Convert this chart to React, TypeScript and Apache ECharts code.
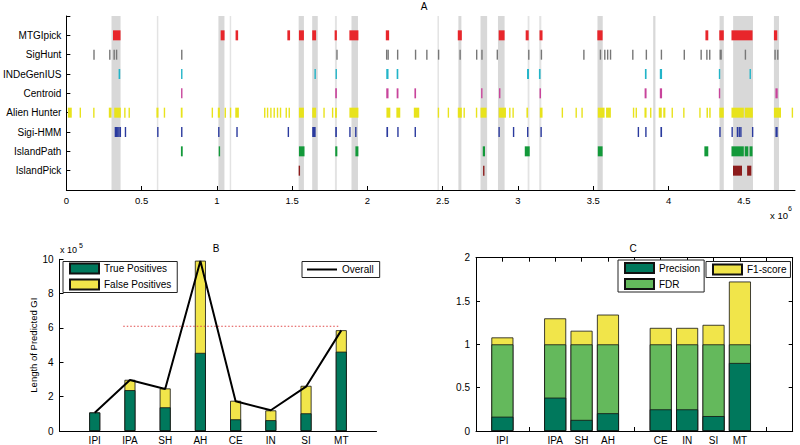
import React, { useEffect, useRef } from 'react';
import * as echarts from 'echarts';

// ---------- Panel A data (positions in Mb, i.e. x 10^6) ----------
const trackNames = ['MTGIpick', 'SigHunt', 'INDeGenIUS', 'Centroid', 'Alien Hunter', 'Sigi-HMM', 'IslandPath', 'IslandPick'];
const xTicksA = [0, 0.5, 1, 1.5, 2, 2.5, 3, 3.5, 4, 4.5];

const mtgipick = [[0.31, 0.36], [1.025, 1.051], [1.124, 1.141], [1.468, 1.486], [1.545, 1.578], [1.633, 1.659], [1.782, 1.797], [1.88, 1.94], [2.122, 2.144], [2.6, 2.627], [2.872, 2.911], [3.051, 3.071], [3.143, 3.163], [3.527, 3.562], [4.245, 4.264], [4.337, 4.367], [4.418, 4.558], [4.7, 4.722]];
const sighunt = [[0.179, 0.184], [0.284, 0.289], [0.313, 0.318], [0.329, 0.334], [0.762, 0.767], [1.793, 1.798], [2.123, 2.129], [2.133, 2.14], [2.196, 2.201], [2.315, 2.32], [2.39, 2.395], [2.468, 2.473], [2.611, 2.616], [2.721, 2.726], [2.756, 2.761], [2.858, 2.863], [3.067, 3.072], [3.151, 3.156], [3.433, 3.438], [3.543, 3.548], [3.572, 3.577], [3.591, 3.596], [3.61, 3.615], [3.758, 3.763], [3.848, 3.853], [3.948, 3.953], [4.1, 4.105], [4.212, 4.217], [4.25, 4.255], [4.269, 4.274], [4.339, 4.354], [4.506, 4.511], [4.703, 4.708], [4.721, 4.726]];
const indegenius = [[0.347, 0.358], [0.762, 0.771], [1.648, 1.654], [1.788, 1.797], [2.125, 2.14], [2.194, 2.205], [3.06, 3.073], [3.139, 3.15], [3.843, 3.854], [3.942, 3.957], [4.334, 4.341], [4.538, 4.545]];
const centroid = [[0.762, 0.771], [1.786, 1.797], [2.125, 2.14], [2.194, 2.206], [2.312, 2.323], [2.755, 2.764], [2.874, 2.883], [3.143, 3.153], [3.841, 3.854], [3.942, 3.957], [4.334, 4.343], [4.71, 4.725]];
const alienHunter = [[0.01, 0.036], [0.088, 0.094], [0.178, 0.184], [0.282, 0.3], [0.318, 0.362], [0.384, 0.39], [0.413, 0.419], [0.598, 0.612], [0.647, 0.653], [0.76, 0.772], [0.965, 0.971], [1.006, 1.02], [1.051, 1.057], [1.086, 1.092], [1.122, 1.146], [1.313, 1.318], [1.332, 1.337], [1.354, 1.359], [1.376, 1.381], [1.398, 1.403], [1.418, 1.423], [1.456, 1.462], [1.476, 1.482], [1.545, 1.578], [1.633, 1.659], [1.707, 1.712], [1.764, 1.77], [1.785, 1.797], [1.88, 1.94], [2.126, 2.152], [2.192, 2.218], [2.308, 2.344], [2.467, 2.473], [2.533, 2.539], [2.6, 2.627], [2.638, 2.644], [2.72, 2.726], [2.751, 2.791], [2.872, 2.92], [2.941, 2.947], [2.963, 2.969], [3.056, 3.067], [3.145, 3.163], [3.29, 3.296], [3.382, 3.388], [3.421, 3.427], [3.53, 3.575], [3.585, 3.617], [3.763, 3.769], [3.781, 3.787], [3.84, 3.854], [3.877, 3.883], [3.935, 3.955], [3.965, 3.979], [4.02, 4.026], [4.097, 4.103], [4.204, 4.21], [4.252, 4.262], [4.27, 4.28], [4.337, 4.367], [4.418, 4.5], [4.506, 4.56], [4.7, 4.747], [4.818, 4.824]];
const sigiHmm = [[0.321, 0.326], [0.329, 0.334], [0.337, 0.342], [0.345, 0.35], [0.354, 0.36], [0.388, 0.393], [0.603, 0.608], [0.762, 0.771], [1.008, 1.016], [1.129, 1.134], [1.47, 1.475], [1.633, 1.656], [1.786, 1.797], [1.879, 1.884], [1.918, 1.923], [2.126, 2.137], [2.198, 2.203], [2.313, 2.318], [2.87, 2.878], [2.966, 2.971], [3.06, 3.065], [3.149, 3.154], [3.795, 3.8], [3.845, 3.85], [3.946, 3.957], [4.337, 4.342], [4.418, 4.423], [4.453, 4.459], [4.465, 4.47], [4.476, 4.482], [4.554, 4.559], [4.71, 4.725]];
const islandPath = [[0.761, 0.773], [1.012, 1.017], [1.545, 1.582], [1.786, 1.8], [1.92, 1.94], [2.766, 2.781], [3.045, 3.078], [3.53, 3.562], [4.238, 4.264], [4.418, 4.5], [4.506, 4.53], [4.538, 4.558]];
const islandPick = [[1.543, 1.552], [2.768, 2.777], [4.428, 4.488], [4.522, 4.55]];

const referenceGIs = [[0.3, 0.36], [1.01, 1.05], [1.543, 1.578], [1.633, 1.67], [1.894, 1.937], [2.604, 2.624], [2.751, 2.795], [2.867, 2.911], [3.528, 3.563], [3.898, 3.913], [4.339, 4.367], [4.429, 4.561], [4.7, 4.734]];
const referenceThin = [[0.601, 0.611], [1.085, 1.095], [1.784, 1.797], [2.465, 2.475], [3.064, 3.076], [3.141, 3.155]];

// ---------- Panel B data (x 10^5) ----------
const bNames = ['IPI', 'IPA', 'SH', 'AH', 'CE', 'IN', 'SI', 'MT'];
const truePositives = [1.08, 2.38, 1.38, 4.55, 0.68, 0.63, 1.03, 4.62];
const falsePositives = [0, 0.6, 1.1, 5.37, 1.08, 0.57, 1.6, 1.25];
const overall = [1.06, 2.97, 2.45, 9.9, 1.73, 1.21, 2.58, 5.86];
const trueGILength = 6.1;
const trueGISpan = [1.81, 7.97];

// ---------- Panel C data ----------
const cNames = ['IPI', 'IPA', 'SH', 'AH', 'CE', 'IN', 'SI', 'MT'];
const cPositions = [1, 3, 4, 5, 7, 8, 9, 10];
const precision = [0.165, 0.385, 0.128, 0.205, 0.25, 0.25, 0.172, 0.785];
const fdr = precision.map((p) => 1 - p);
const f1Score = [0.08, 0.3, 0.157, 0.343, 0.19, 0.19, 0.225, 0.725];

// ---------- styles ----------
const FONT = "'Liberation Sans', Arial, Helvetica, sans-serif";
const trackColors = ['#e8262b', '#777777', '#22b4c8', '#c8449b', '#e8e31c', '#2a3a9e', '#13993a', '#8c1c1c'];
const DARK_GREEN = '#00785c';
const LIGHT_GREEN = '#64b95c';
const YELLOW = '#f1e54a';
const FS = 9.5;

export default function App() {
  const ref = useRef<HTMLDivElement>(null);
  useEffect(() => {
    if (!ref.current) return;
    const chart = echarts.init(ref.current, undefined, { renderer: 'svg' });

    const tracks = [mtgipick, sighunt, indegenius, centroid, alienHunter, sigiHmm, islandPath, islandPick];
    const markData: number[][] = [];
    tracks.forEach((list, ti) => list.forEach(([s, e]) => markData.push([s, e, 8 - ti, ti])));
    const bandData = referenceGIs.map(([s, e]) => [s, e, 0, 9]);
    const thinData = referenceThin.map(([s, e]) => [s, e, 0, 9]);

    const bandRender = (fill: string) => (params: any, api: any) => {
      const p0 = api.coord([api.value(0), 9]);
      const p1 = api.coord([api.value(1), 0]);
      return {
        type: 'rect',
        shape: { x: p0[0], y: p0[1], width: Math.max(p1[0] - p0[0], 1.5), height: p1[1] - p0[1] },
        style: { fill },
      };
    };

    const axisCommon = {
      axisLine: { show: true, onZero: false, lineStyle: { color: '#000', width: 1 } },
      axisTick: { show: true, inside: true, length: 4, lineStyle: { color: '#000' } },
      splitLine: { show: false },
    };

    const bTotals = truePositives.map((t, i) => t + falsePositives[i]);
    const cFdrTop = precision.map((p, i) => p + fdr[i]);
    const cF1Top = cFdrTop.map((v, i) => v + f1Score[i]);

    const legendBase = {
      orient: 'vertical',
      itemWidth: 29,
      itemHeight: 10,
      itemGap: 4,
      selectedMode: false,
      backgroundColor: '#fff',
      borderColor: '#222',
      borderWidth: 1,
      borderRadius: 0,
      icon: 'rect',
      textStyle: { fontSize: FS + 0.5, color: '#000', fontFamily: FONT },
    };

    const option: any = {
      animation: false,
      backgroundColor: '#fff',
      textStyle: { fontFamily: FONT },
      grid: [
        { left: 59.5, top: 16, width: 735.5, height: 174 },
        { left: 59.5, top: 259.3, width: 317, height: 173 },
        { left: 476, top: 257.7, width: 316.7, height: 174.6 },
      ],
      xAxis: [
        {
          ...axisCommon, gridIndex: 0, type: 'value', min: 0, max: 4.84, interval: 0.5,
          axisLabel: {
            color: '#000', fontSize: FS, margin: 5, showMaxLabel: false,
            formatter: (v: number) => (xTicksA.some((t) => Math.abs(t - v) < 1e-6) ? String(v) : ''),
          },
        },
        {
          ...axisCommon, gridIndex: 1, type: 'value', min: 0, max: 9, interval: 1,
          axisTick: { show: false },
          axisLabel: { color: '#000', fontSize: FS + 0.5, margin: 4, formatter: (v: number) => bNames[v - 1] ?? '' },
        },
        {
          ...axisCommon, gridIndex: 2, type: 'value', min: 0, max: 12, interval: 1,
          axisLabel: {
            color: '#000', fontSize: FS + 0.5, margin: 4,
            formatter: (v: number) => { const i = cPositions.indexOf(v); return i >= 0 ? cNames[i] : ''; },
          },
        },
        {
          ...axisCommon, gridIndex: 2, type: 'value', position: 'top', min: 0, max: 12, interval: 1,
          axisLabel: { show: false },
        },
      ],
      yAxis: [
        {
          ...axisCommon, gridIndex: 0, type: 'value', min: 0, max: 9, interval: 1,
          axisLabel: { color: '#000', fontSize: FS + 0.5, margin: 5, formatter: (v: number) => trackNames[8 - v] ?? '' },
        },
        {
          ...axisCommon, gridIndex: 1, type: 'value', min: 0, max: 10, interval: 2,
          axisLabel: { color: '#000', fontSize: FS + 0.5, margin: 6 },
          name: 'Length of Predicted GI', nameLocation: 'middle', nameGap: 20,
          nameTextStyle: { color: '#000', fontSize: FS, fontFamily: FONT },
        },
        {
          ...axisCommon, gridIndex: 2, type: 'value', min: 0, max: 2, interval: 0.5,
          axisLabel: { color: '#000', fontSize: FS + 0.5, margin: 6 },
        },
        {
          ...axisCommon, gridIndex: 2, type: 'value', position: 'right', min: 0, max: 2, interval: 0.5,
          axisLabel: { show: false },
        },
      ],
      legend: [
        { ...legendBase, left: 63, top: 261.5, padding: [1, 6, 2, 6], data: ['True Positives', 'False Positives'] },
        {
          ...legendBase, left: 302, top: 261.5, padding: [3, 6, 3, 5], itemWidth: 30, itemHeight: 2,
          itemStyle: { color: '#000', borderWidth: 0 }, data: ['Overall'],
        },
        { ...legendBase, left: 618, top: 260, padding: [2, 4, 2, 6], data: ['Precision', 'FDR'] },
        { ...legendBase, left: 706, top: 261.5, padding: [2, 4, 2, 6], data: ['F1-score'] },
      ],
      graphic: [
        { type: 'text', x: 424, y: 6, style: { text: 'A', fontSize: FS + 0.5, fontFamily: FONT, fill: '#000', textAlign: 'center', textVerticalAlign: 'middle' } },
        { type: 'text', x: 216, y: 248.5, style: { text: 'B', fontSize: FS + 0.5, fontFamily: FONT, fill: '#000', textAlign: 'center', textVerticalAlign: 'middle' } },
        { type: 'text', x: 633, y: 248.5, style: { text: 'C', fontSize: FS + 0.5, fontFamily: FONT, fill: '#000', textAlign: 'center', textVerticalAlign: 'middle' } },
        { type: 'text', x: 770, y: 215, style: { text: 'x 10', fontSize: FS, fontFamily: FONT, fill: '#000', textAlign: 'left', textVerticalAlign: 'middle' } },
        { type: 'text', x: 788, y: 208, style: { text: '6', fontSize: 7, fontFamily: FONT, fill: '#000', textAlign: 'left', textVerticalAlign: 'middle' } },
        { type: 'text', x: 60, y: 250, style: { text: 'x 10', fontSize: FS - 0.5, fontFamily: FONT, fill: '#000', textAlign: 'left', textVerticalAlign: 'middle' } },
        { type: 'text', x: 79, y: 245, style: { text: '5', fontSize: 7, fontFamily: FONT, fill: '#000', textAlign: 'left', textVerticalAlign: 'middle' } },
      ],
      series: [
        // Panel A
        { type: 'custom', name: 'thin', xAxisIndex: 0, yAxisIndex: 0, data: thinData, encode: { x: [0, 1], y: [2, 3] }, renderItem: bandRender('#e3e3e3'), silent: true, z: 1 },
        { type: 'custom', name: 'bands', xAxisIndex: 0, yAxisIndex: 0, data: bandData, encode: { x: [0, 1], y: [2, 3] }, renderItem: bandRender('#d8d8d8'), silent: true, z: 1 },
        {
          type: 'custom', name: 'tracks', xAxisIndex: 0, yAxisIndex: 0, data: markData, encode: { x: [0, 1], y: 2 }, z: 3,
          renderItem: (params: any, api: any) => {
            const r = api.value(2);
            const p0 = api.coord([api.value(0), r]);
            const p1 = api.coord([api.value(1), r]);
            return {
              type: 'rect',
              shape: { x: p0[0], y: p0[1] - 5, width: Math.max(p1[0] - p0[0], 1.4), height: 10 },
              style: { fill: trackColors[api.value(3)] },
            };
          },
        },
        // Panel B
        {
          type: 'bar', name: 'False Positives', xAxisIndex: 1, yAxisIndex: 1, barWidth: 11, barGap: '-100%',
          data: bTotals.map((v, i) => [i + 1, v]),
          itemStyle: { color: YELLOW, borderColor: '#111', borderWidth: 0.8 },
        },
        {
          type: 'bar', name: 'True Positives', xAxisIndex: 1, yAxisIndex: 1, barWidth: 11, barGap: '-100%',
          data: truePositives.map((v, i) => [i + 1, v]),
          itemStyle: { color: DARK_GREEN, borderColor: '#111', borderWidth: 0.8 },
        },
        {
          type: 'line', name: 'Overall', xAxisIndex: 1, yAxisIndex: 1, symbol: 'none', z: 5,
          data: overall.map((v, i) => [i + 1, v]),
          lineStyle: { color: '#000', width: 2 }, itemStyle: { color: '#000' },
        },
        {
          type: 'line', name: 'truth', xAxisIndex: 1, yAxisIndex: 1, symbol: 'none', z: 4,
          data: trueGISpan.map((x) => [x, trueGILength]),
          lineStyle: { color: '#e04848', width: 1, type: [1.5, 2] },
        },
        // Panel C
        {
          type: 'bar', name: 'F1-score', xAxisIndex: 2, yAxisIndex: 2, barWidth: 22, barGap: '-100%',
          data: cF1Top.map((v, i) => [cPositions[i], v]),
          itemStyle: { color: YELLOW, borderColor: '#111', borderWidth: 0.8 },
        },
        {
          type: 'bar', name: 'FDR', xAxisIndex: 2, yAxisIndex: 2, barWidth: 22, barGap: '-100%',
          data: cFdrTop.map((v, i) => [cPositions[i], v]),
          itemStyle: { color: LIGHT_GREEN, borderColor: '#111', borderWidth: 0.8 },
        },
        {
          type: 'bar', name: 'Precision', xAxisIndex: 2, yAxisIndex: 2, barWidth: 22, barGap: '-100%',
          data: precision.map((v, i) => [cPositions[i], v]),
          itemStyle: { color: DARK_GREEN, borderColor: '#111', borderWidth: 0.8 },
        },
      ],
    };

    chart.setOption(option);
    return () => chart.dispose();
  }, []);

  return <div ref={ref} style={{ position: 'fixed', left: 0, top: 0, width: 800, height: 445 }} />;
}
